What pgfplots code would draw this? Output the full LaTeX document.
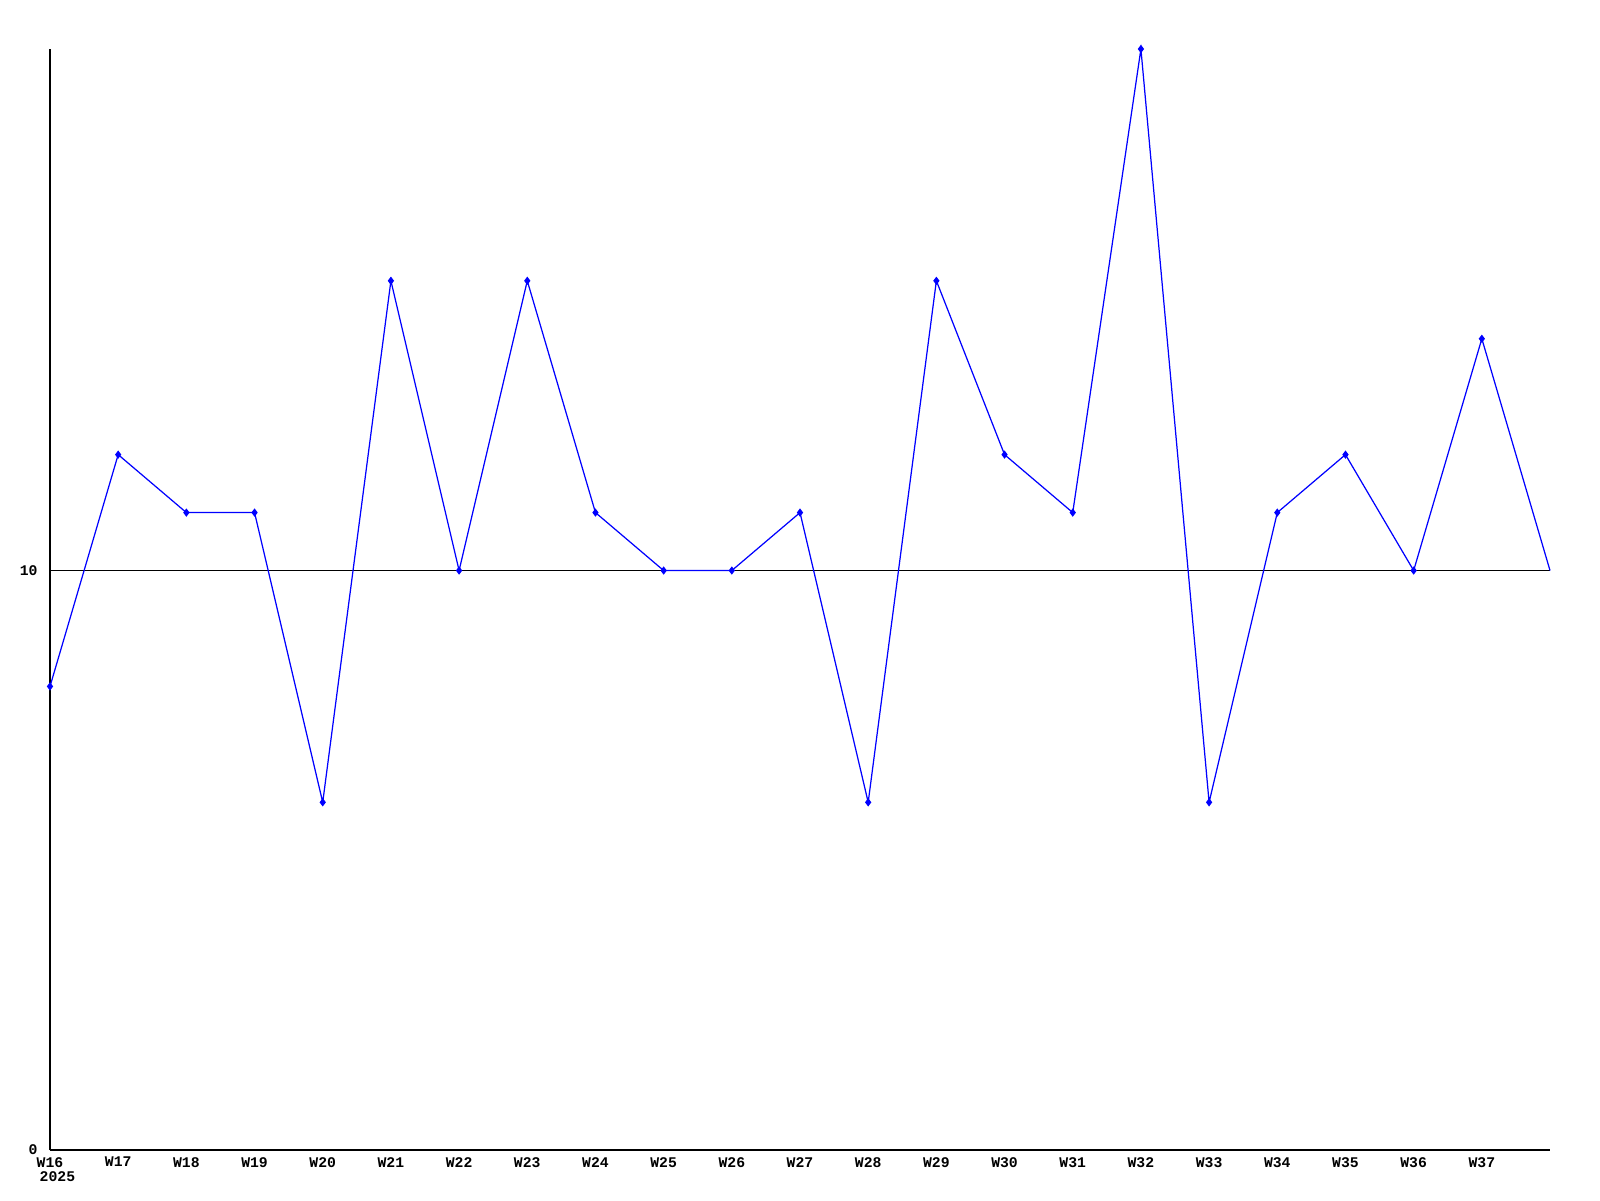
\documentclass[border=0pt]{standalone}
\usepackage{fontspec}
\setmainfont{Liberation Mono}
\usepackage{pgfplots}
\pgfplotsset{compat=1.18}
\begin{document}
\begin{tikzpicture}
\begin{axis}[
  at={(0,0)}, anchor=south west,
  scale only axis, width=15cm, height=11.01cm,
  xmin=0, xmax=22, ymin=0, ymax=19,
  axis x line=bottom, axis y line=left,
  axis line style={-, line width=0.4pt, black},
  xtick={0,...,21},
  xticklabels={W16,W17,W18,W19,W20,W21,W22,W23,W24,W25,W26,W27,W28,W29,W30,W31,W32,W33,W34,W35,W36,W37},
  ytick={0,10},
  major tick length=0pt,
  tick label style={font=\fontsize{4.2}{5}\selectfont\bfseries},
  /pgf/number format/assume math mode=true,
  xticklabel style={yshift=1.5pt},
  yticklabel style={xshift=0pt},
  clip=false,
]
\addplot[black, line width=0.4pt] coordinates {(0,10) (22,10)};
\addplot[blue, line width=0.35pt, mark=diamond*, mark size=0.9pt, mark options={fill=blue}] coordinates {
(0,8) (1,12) (2,11) (3,11) (4,6) (5,15) (6,10) (7,15) (8,11) (9,10) (10,10) (11,11) (12,6) (13,15) (14,12) (15,11) (16,19) (17,6) (18,11) (19,12) (20,10) (21,14)
};
\addplot[blue, line width=0.35pt] coordinates {(21,14) (22,10)};
\node[anchor=north west, inner sep=0pt, font=\fontsize{4.2}{5}\selectfont\bfseries] at ([xshift=-0.11cm, yshift=-0.21cm]axis cs:0,0) {2025};
\end{axis}
\path[use as bounding box] (-0.5cm,-0.5cm) rectangle (15.5cm,11.5cm);
\end{tikzpicture}
\end{document}
